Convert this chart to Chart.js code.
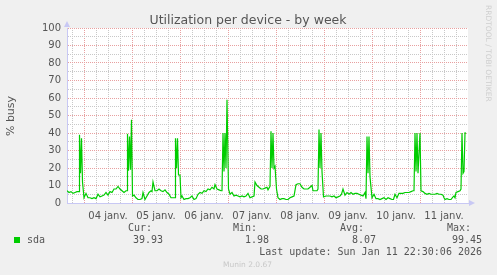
<!DOCTYPE html>
<html>
<head>
<meta charset="utf-8">
<script src="https://cdn.jsdelivr.net/npm/chart.js@4"></script>
<style>
  body { margin: 0; background: #f0f0f0; }
  canvas { display: block; }
</style>
</head>
<body>
<canvas id="busyChart" width="497" height="275"></canvas>
<script>
// hours counted from 04 janv. 00:00
const hours = [-8.5, -7.5, -6.5, -5.5, -4.5, -3.5, -2.5, -2.25, -1.75, -1.25, -0.75, 0, 1, 2, 3, 4, 5, 6, 7, 8, 9, 10, 11, 12, 13, 14, 15, 16, 17, 18, 19, 20, 21, 21.5, 21.75, 22.25, 22.75, 23.25, 23.75, 24.25, 25, 26, 27, 28, 29, 29.5, 30.5, 31.5, 32.5, 33.5, 34, 34.5, 35.5, 36.5, 37.5, 38.5, 39.5, 40.5, 41.5, 42.5, 43.5, 44.5, 45.5, 45.75, 46.25, 46.75, 47.25, 48, 48.5, 49, 50, 51, 52, 53, 54, 55, 56, 57, 58, 59, 60, 61, 62, 63, 64, 65, 65.5, 66.5, 67.5, 68.5, 69, 69.5, 70, 70.5, 71, 71.5, 72.25, 73, 74, 75, 76, 77, 78, 79, 80, 81, 82, 83, 84, 85, 85.5, 86.5, 87.5, 88.5, 89.5, 90.5, 91.5, 92, 93, 93.5, 94, 94.5, 95, 95.5, 96.25, 97, 98, 99, 100, 101, 102, 103, 104, 105, 106, 107, 108, 109, 110, 111, 112, 113, 114, 114.5, 115.5, 116.5, 117, 117.5, 118, 118.5, 119, 119.75, 121, 122, 123, 124, 125, 126, 127, 128, 128.75, 129.5, 130.5, 131.5, 132.5, 133.5, 134.5, 135.5, 136.5, 137.5, 138.5, 139.5, 140.5, 141, 141.5, 142, 142.5, 143, 144, 145, 146, 147, 148, 149, 150, 151, 152, 153, 154, 154.75, 155.5, 156.5, 157.5, 158.5, 159.5, 160.5, 161.5, 162.5, 163.5, 164.5, 165, 165.5, 166, 166.5, 167, 168, 168.5, 169.5, 170.5, 171.5, 172.5, 173.5, 174.5, 175.5, 176.5, 177.5, 178.5, 179.5, 180, 180.5, 181.5, 182.5, 183.5, 184.5, 185, 185.5, 186, 187, 188, 188.5, 189, 189.5, 190, 190.5, 191];
const busy = [7, 6, 6.5, 5.5, 6, 6.5, 6.5, 39, 17, 37, 12, 3, 5.5, 3, 3, 2.5, 3, 2.5, 5, 3.5, 4, 4.5, 6, 4.5, 6.5, 6, 8, 8, 9.5, 8, 7, 6, 7, 7, 39.5, 18.5, 38, 19, 47.5, 4, 4.5, 3, 2, 2, 2.5, 6, 2, 4, 6, 7, 6.5, 12, 7, 7, 8, 7, 6.5, 7.5, 6, 5, 3, 3, 3, 37, 20, 37, 16, 16, 3, 4, 2, 2.5, 2.5, 3, 4, 2, 2.5, 5, 6, 5.5, 7, 6.5, 8, 7.5, 9, 8, 10.5, 8, 7.5, 7, 7, 40, 18, 40, 20, 59, 8, 5, 6, 4, 4.5, 4, 3.5, 4, 3.5, 4, 5.5, 3, 3.5, 4, 12, 10, 9, 8, 8, 8.5, 9, 7.5, 9.5, 41, 20, 40, 20, 21, 8, 3, 2, 2.5, 2.5, 2, 2, 3, 3.5, 4, 10.5, 11, 11, 9, 8, 8, 8, 9, 10, 7, 7, 7, 8, 42, 20, 40, 18, 3.5, 4, 4, 4, 3.5, 4, 3, 3.5, 4, 5, 8, 4.5, 6, 5, 6, 5, 5.5, 5.5, 5, 4.5, 4, 6, 2.5, 38, 17, 38, 15, 3, 5, 2.5, 2.5, 2, 2.5, 3, 2, 3, 2.5, 2, 2, 5, 3, 5.5, 5.5, 5.5, 6, 6, 6, 6.5, 7, 7, 40, 18, 40, 17, 40, 7, 6.5, 5.5, 5, 5.5, 5, 5, 5, 5.5, 5, 5, 4.5, 3, 2, 2.5, 2, 2, 3.5, 4, 3, 6, 6.5, 7, 8, 40, 17, 18, 40, 39.93];
const dayLabels = ['04 janv.', '05 janv.', '06 janv.', '07 janv.', '08 janv.', '09 janv.', '10 janv.', '11 janv.'];
const statNames = ['Cur:', 'Min:', 'Avg:', 'Max:'];
const statValues = ['39.93', '1.98', '8.07', '99.45'];

const axisBlue = '#c8c8f4';
const majorGrid = '#e8a0a0';
const minorGrid = '#c8c8c8';

const munin = {
  id: 'munin',
  beforeDraw(chart) {
    const c = chart.ctx, a = chart.chartArea;
    c.save();
    c.fillStyle = '#f0f0f0';
    c.fillRect(0, 0, chart.width, chart.height);
    c.fillStyle = '#ffffff';
    c.fillRect(a.left, a.top, a.right - a.left, a.bottom - a.top);
    c.restore();
  },
  afterDraw(chart) {
    const c = chart.ctx, a = chart.chartArea;
    c.save();
    // axis arrows
    c.fillStyle = axisBlue;
    c.beginPath();
    c.moveTo(a.left - 3, a.top - 1);
    c.lineTo(a.left + 3, a.top - 1);
    c.lineTo(a.left, a.top - 7);
    c.fill();
    c.beginPath();
    c.moveTo(a.right + 1, a.bottom - 3);
    c.lineTo(a.right + 1, a.bottom + 3);
    c.lineTo(a.right + 7, a.bottom);
    c.fill();

    // title
    c.fillStyle = '#555';
    c.font = '12.5px "DejaVu Sans"';
    c.textAlign = 'center';
    c.textBaseline = 'alphabetic';
    c.fillText('Utilization per device - by week', 248, 24);

    // y title
    c.save();
    c.translate(14, 116);
    c.rotate(-Math.PI / 2);
    c.font = '11px "DejaVu Sans"';
    c.fillText('% busy', 0, 0);
    c.restore();

    // side credit
    c.save();
    c.translate(486, 5);
    c.rotate(Math.PI / 2);
    c.fillStyle = '#cfcfcf';
    c.font = '7.5px "DejaVu Sans"';
    c.textAlign = 'left';
    c.fillText('RRDTOOL / TOBI OETIKER', 0, 0);
    c.restore();

    // legend
    c.fillStyle = '#00cc00';
    c.fillRect(14, 237, 6, 6);
    c.fillStyle = '#555';
    c.font = '10px "DejaVu Sans Mono"';
    c.textAlign = 'left';
    c.fillText('sda', 27, 243);
    const nameX = [128, 233, 340, 447];
    const valRight = [163, 269, 376, 482];
    statNames.forEach((n, i) => c.fillText(n, nameX[i], 231));
    c.textAlign = 'right';
    statValues.forEach((v, i) => c.fillText(v, valRight[i], 243));
    c.fillText('Last update: Sun Jan 11 22:30:06 2026', 482, 255);

    c.fillStyle = '#c8c8c8';
    c.font = '7.5px "DejaVu Sans"';
    c.textAlign = 'left';
    c.fillText('Munin 2.0.67', 223, 267);
    c.restore();
  }
};

new Chart(document.getElementById('busyChart'), {
  type: 'line',
  data: {
    datasets: [{
      label: 'sda',
      data: hours.map((h, i) => ({ x: h, y: busy[i] })),
      borderColor: '#00cc00',
      borderWidth: 1.2,
      pointRadius: 0,
      tension: 0,
      fill: false
    }]
  },
  options: {
    responsive: false,
    animation: false,
    layout: { padding: { left: 0, right: 29, top: 28, bottom: 0 } },
    plugins: { legend: { display: false }, tooltip: { enabled: false } },
    scales: {
      x: {
        type: 'linear',
        min: -8.5,
        max: 192,
        afterFit(scale) { scale.height = 72; },
        // border.dash styles the grid lines in v4
        border: { color: axisBlue, width: 1, dash: [1, 1] },
        grid: {
          drawTicks: false,
          lineWidth: 1,
          color: ctx => {
            const v = ctx.tick.value;
            if (v >= 192) return 'rgba(0,0,0,0)';
            return v % 24 === 0 ? majorGrid : minorGrid;
          }
        },
        ticks: {
          stepSize: 6,
          includeBounds: false,
          autoSkip: false,
          maxRotation: 0,
          padding: 7,
          color: '#555',
          font: { family: 'DejaVu Sans', size: 10 },
          callback: v => (v % 24 === 12 ? dayLabels[(v - 12) / 24] : '')
        }
      },
      y: {
        min: 0,
        max: 100,
        afterFit(scale) { scale.width = 67; },
        border: { color: axisBlue, width: 1, dash: [1, 1] },
        grid: {
          drawTicks: false,
          lineWidth: 1,
          color: ctx => (ctx.tick.value % 10 === 0 ? majorGrid : minorGrid)
        },
        ticks: {
          stepSize: 5,
          autoSkip: false,
          padding: 6,
          color: '#555',
          font: { family: 'DejaVu Sans', size: 10 },
          callback: v => (v % 10 === 0 ? String(v) : '')
        }
      }
    }
  },
  plugins: [munin]
});
</script>
</body>
</html>
